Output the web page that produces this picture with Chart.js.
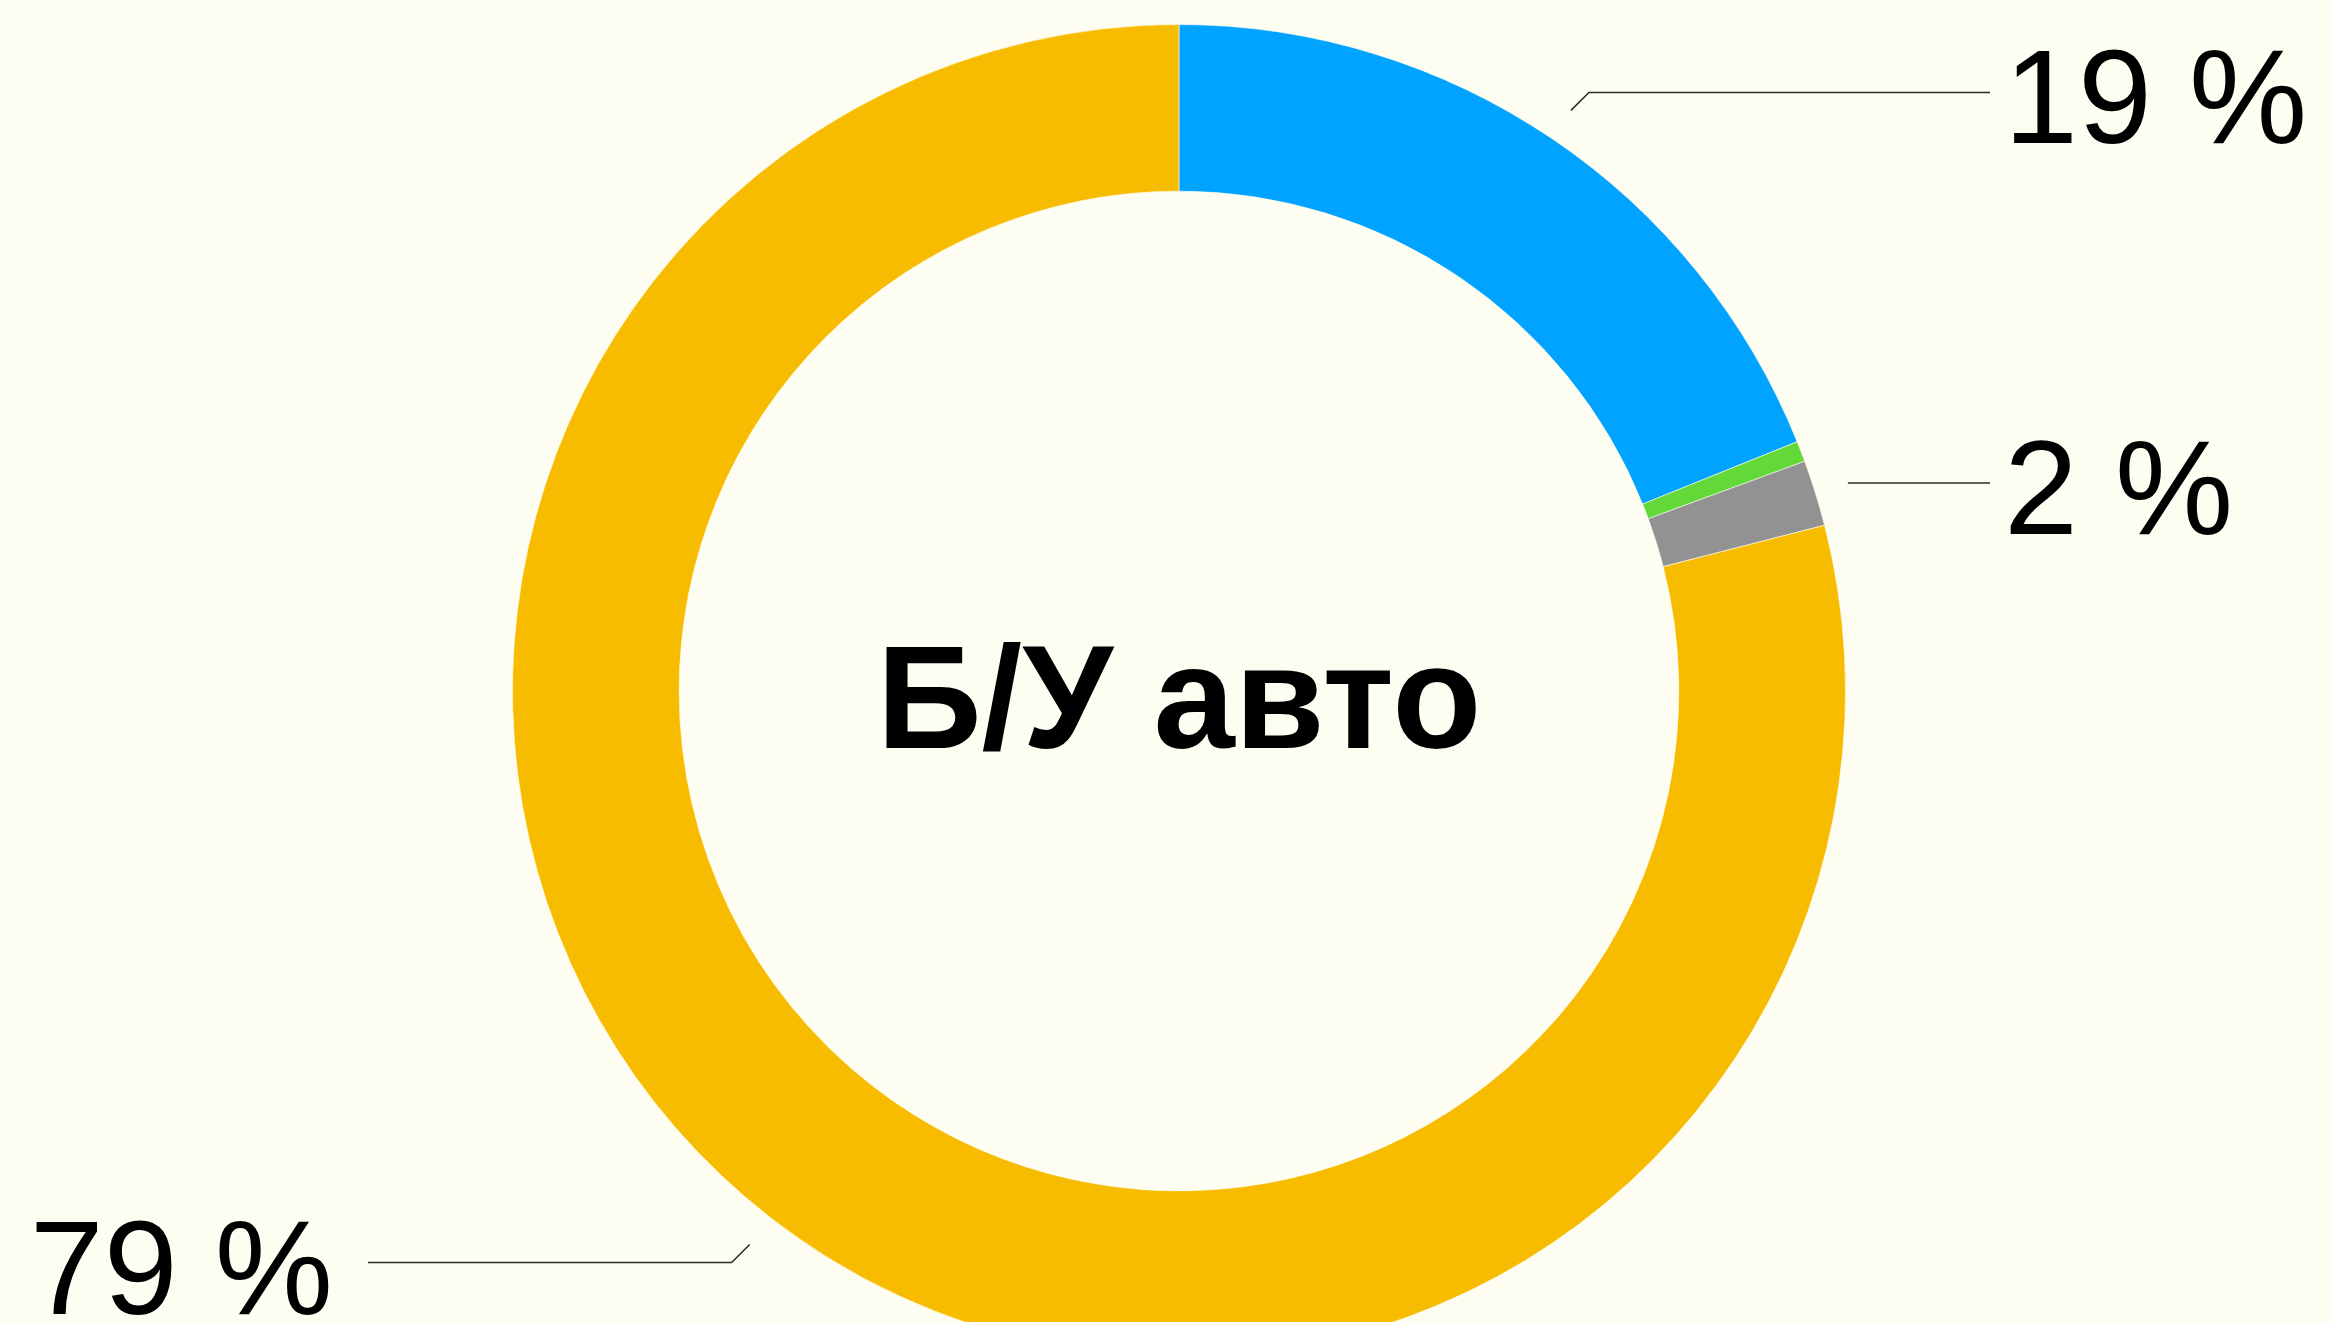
<!DOCTYPE html>
<html lang="ru">
<head>
    <meta charset="UTF-8">
    <title>Б/У авто</title>
    <script src="https://cdn.jsdelivr.net/npm/chart.js@4.4.1/dist/chart.umd.min.js"></script>
    <style>
        html, body { margin: 0; padding: 0; background: #fdfdf1; overflow: hidden; }
        #wrap { width: 2331px; height: 1400px; }
    </style>
</head>
<body>
    <div id="wrap"><canvas id="donut" width="2331" height="1400"></canvas></div>

    <script>
        // данные
        const categories = ['Сегмент 1', 'Сегмент 2', 'Сегмент 3', 'Сегмент 4'];
        const values = [18.9, 0.5, 1.6, 79.0];
        const colors = ['#00a3ff', '#62d939', '#929292', '#f7bb00'];
        const centerTitle = 'Б/У авто';

        // подписи с выносками
        const leaderLabels = {
            id: 'leaderLabels',
            afterDatasetsDraw(chart) {
                const ctx = chart.ctx;
                const arcs = chart.getDatasetMeta(0).data;
                ctx.save();
                ctx.font = '133px "Liberation Sans", Arial, sans-serif';
                ctx.textBaseline = 'alphabetic';
                arcs.forEach(function(arc, i) {
                    if (values[i] < 1) return;
                    const mid = (arc.startAngle + arc.endAngle) / 2;
                    const cx = arc.x, cy = arc.y, r = arc.outerRadius;
                    const right = Math.cos(mid) >= 0;
                    const dir = right ? 1 : -1;
                    const endX = cx + dir * 811;
                    const x1 = cx + Math.cos(mid) * (r + 34);
                    const y1 = cy + Math.sin(mid) * (r + 34);
                    let y2 = y1;
                    ctx.strokeStyle = '#2a2a2a';
                    ctx.lineWidth = 1.5;
                    ctx.beginPath();
                    ctx.moveTo(x1, y1);
                    if (Math.abs(Math.sin(mid)) > 0.5) {
                        const up = Math.sin(mid) < 0 ? -1 : 1;
                        y2 = y1 + up * 18;
                        ctx.lineTo(x1 + dir * 18, y2);
                    }
                    ctx.lineTo(endX, y2);
                    ctx.stroke();

                    ctx.fillStyle = '#000';
                    const txt = Math.round(values[i]) + ' %';
                    if (right) {
                        ctx.textAlign = 'left';
                        ctx.fillText(txt, endX + 14, y2 + 51);
                    } else {
                        ctx.textAlign = 'right';
                        ctx.fillText(txt, endX - 35, y2 + 51);
                    }
                });
                ctx.restore();
            }
        };

        const centerText = {
            id: 'centerText',
            afterDatasetsDraw(chart) {
                const arc = chart.getDatasetMeta(0).data[0];
                const ctx = chart.ctx;
                ctx.save();
                ctx.font = 'bold 146px "Liberation Sans", Arial, sans-serif';
                ctx.textAlign = 'center';
                ctx.textBaseline = 'alphabetic';
                ctx.fillStyle = '#000';
                ctx.fillText(centerTitle, arc.x, arc.y + 57);
                ctx.restore();
            }
        };

        new Chart(document.getElementById('donut'), {
            type: 'doughnut',
            data: {
                labels: categories,
                datasets: [{
                    data: values,
                    backgroundColor: colors,
                    borderColor: 'rgba(253,253,241,0.6)',
                    borderWidth: 1
                }]
            },
            options: {
                responsive: false,
                animation: false,
                devicePixelRatio: 1,
                cutout: '75%',
                layout: { padding: { top: 24, bottom: 42, left: 512, right: 485 } },
                plugins: {
                    legend: { display: false },
                    tooltip: { enabled: false }
                }
            },
            plugins: [leaderLabels, centerText]
        });
    </script>
</body>
</html>
